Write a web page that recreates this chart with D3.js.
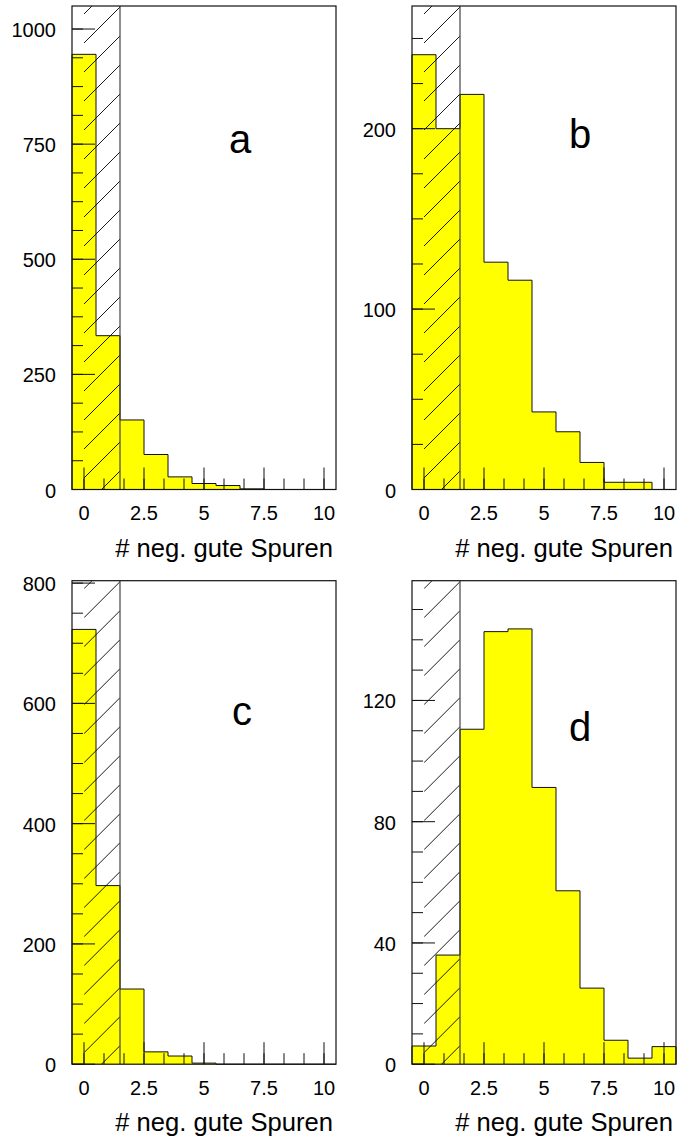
<!DOCTYPE html>
<html>
<head>
<meta charset="utf-8">
<script src="https://cdn.jsdelivr.net/npm/d3@7"></script>
<style>
  html, body { margin: 0; padding: 0; background: #fff; }
  svg { display: block; }
  text { font-family: "Liberation Sans", Arial, Helvetica, sans-serif; fill: #000; }
</style>
</head>
<body>
<svg id="chart" width="678" height="1137"></svg>
<script>
// ---------------- data ----------------
const binCenters = [0, 1, 2, 3, 4, 5, 6, 7, 8, 9, 10];
const countsA = [945, 334, 151, 76, 27.4, 13, 8.6, 1.4, 0, 0, 0];
const countsB = [241, 200, 219, 126, 116, 43, 32, 15, 4, 4, 0];
const countsC = [723, 297, 125, 20.5, 13.6, 1.8, 0, 0, 0, 0, 0];
const countsD = [6, 36, 110.5, 142.7, 143.6, 91.3, 57.2, 25.1, 7.9, 2, 5.8];
const panelLetters = ["a", "b", "c", "d"];
const xTickValues = [0, 2.5, 5, 7.5, 10];
const yTicksA = [0, 250, 500, 750, 1000];
const yTicksB = [0, 100, 200];
const yTicksC = [0, 200, 400, 600, 800];
const yTicksD = [0, 40, 80, 120];
const yMaxes = [1050, 268, 804, 159.5];
const yMinorSteps = [62.5, 25, 50, 10];
const xMinorStep = 2.5 / 3;
const xDomain = [-0.5, 10.5];
const cutLow = 0, cutHigh = 1.5;   // hatched (excluded) band
const xTitle = "# neg. gute Spuren";

// ---------------- layout ----------------
const W = 264, H = 483.5;
const panels = [
  { x0: 72,  y0: 6,     counts: countsA, ticks: yTicksA, letter: [168, 147] },
  { x0: 412, y0: 6,     counts: countsB, ticks: yTicksB, letter: [168, 142] },
  { x0: 72,  y0: 580.7, counts: countsC, ticks: yTicksC, letter: [170, 144] },
  { x0: 412, y0: 580.7, counts: countsD, ticks: yTicksD, letter: [168, 160] }
];

const svg = d3.select("#chart");
const defs = svg.append("defs");

panels.forEach((p, i) => {
  const g = svg.append("g").attr("transform", `translate(${p.x0},${p.y0})`);
  const x = d3.scaleLinear().domain(xDomain).range([0, W]);
  const y = d3.scaleLinear().domain([0, yMaxes[i]]).range([H, 0]);

  // frame background
  g.append("rect").attr("width", W).attr("height", H).attr("fill", "#fff");

  // histogram fill
  const pts = binCenters.map((c, k) => [c - 0.5, p.counts[k]]);
  pts.push([binCenters[binCenters.length - 1] + 0.5, p.counts[p.counts.length - 1]]);
  const area = d3.area().curve(d3.curveStepAfter)
    .x(d => x(d[0])).y0(y(0)).y1(d => y(d[1]));
  g.append("path").datum(pts).attr("d", area).attr("fill", "#ffff00");

  // histogram outline
  const outPath = d3.line().x(d => x(d[0])).y(d => y(d[1]));
  const stepPts = [[binCenters[0] - 0.5, 0]];
  for (let k = 0; k < binCenters.length; k++) {
    stepPts.push([binCenters[k] - 0.5, p.counts[k]]);
    stepPts.push([binCenters[k] + 0.5, p.counts[k]]);
  }
  stepPts.push([binCenters[binCenters.length - 1] + 0.5, 0]);
  g.append("path").datum(stepPts).attr("d", outPath)
    .attr("fill", "none").attr("stroke", "#111").attr("stroke-width", 1);

  // hatched band
  const clipId = "clip" + i;
  defs.append("clipPath").attr("id", clipId).append("rect")
    .attr("x", x(cutLow)).attr("y", 0)
    .attr("width", x(cutHigh) - x(cutLow)).attr("height", H);
  const hg = g.append("g").attr("clip-path", `url(#${clipId})`);
  const sp = 29;
  const bw = x(cutHigh) - x(cutLow);
  for (let c = -60; c < H + 80; c += sp) {
    hg.append("line")
      .attr("x1", x(cutLow)).attr("y1", c + 10)
      .attr("x2", x(cutHigh)).attr("y2", c + 10 - bw)
      .attr("stroke", "#000").attr("stroke-width", 0.9);
  }
  g.append("line").attr("x1", x(cutHigh)).attr("x2", x(cutHigh))
    .attr("y1", 0).attr("y2", H).attr("stroke", "#444").attr("stroke-width", 1.2);

  // y ticks (inside)
  const yMinor = d3.range(0, yMaxes[i] + 1e-9, yMinorSteps[i]);
  g.selectAll(".ymin").data(yMinor).enter().append("line")
    .attr("x1", 0).attr("x2", 11).attr("y1", d => y(d)).attr("y2", d => y(d))
    .attr("stroke", "#111").attr("stroke-width", 1);
  g.selectAll(".ymaj").data(p.ticks).enter().append("line")
    .attr("x1", 0).attr("x2", 23).attr("y1", d => y(d)).attr("y2", d => y(d))
    .attr("stroke", "#111").attr("stroke-width", 1);
  g.selectAll(".ylab").data(p.ticks).enter().append("text")
    .attr("x", -16).attr("y", d => y(d) + 8)
    .attr("text-anchor", "end").attr("font-size", 20)
    .text(d => d);

  // x ticks (inside)
  const xMinor = d3.range(0, xDomain[1], xMinorStep);
  g.selectAll(".xmin").data(xMinor).enter().append("line")
    .attr("x1", d => x(d)).attr("x2", d => x(d)).attr("y1", H).attr("y2", H - 11)
    .attr("stroke", "#111").attr("stroke-width", 1);
  g.selectAll(".xmaj").data(xTickValues).enter().append("line")
    .attr("x1", d => x(d)).attr("x2", d => x(d)).attr("y1", H).attr("y2", H - 22)
    .attr("stroke", "#111").attr("stroke-width", 1);
  g.selectAll(".xlab").data(xTickValues).enter().append("text")
    .attr("x", d => x(d)).attr("y", H + 30.5)
    .attr("text-anchor", "middle").attr("font-size", 20)
    .text(d => d);

  // axis title
  g.append("text").attr("x", W - 3).attr("y", H + 67)
    .attr("text-anchor", "end").attr("font-size", 25.6)
    .text(xTitle);

  // frame
  g.append("rect").attr("width", W).attr("height", H)
    .attr("fill", "none").attr("stroke", "#111").attr("stroke-width", 1.2);

  // panel letter
  g.append("text").attr("x", p.letter[0]).attr("y", p.letter[1])
    .attr("text-anchor", "middle").attr("font-size", 40)
    .text(panelLetters[i]);
});
</script>
</body>
</html>
